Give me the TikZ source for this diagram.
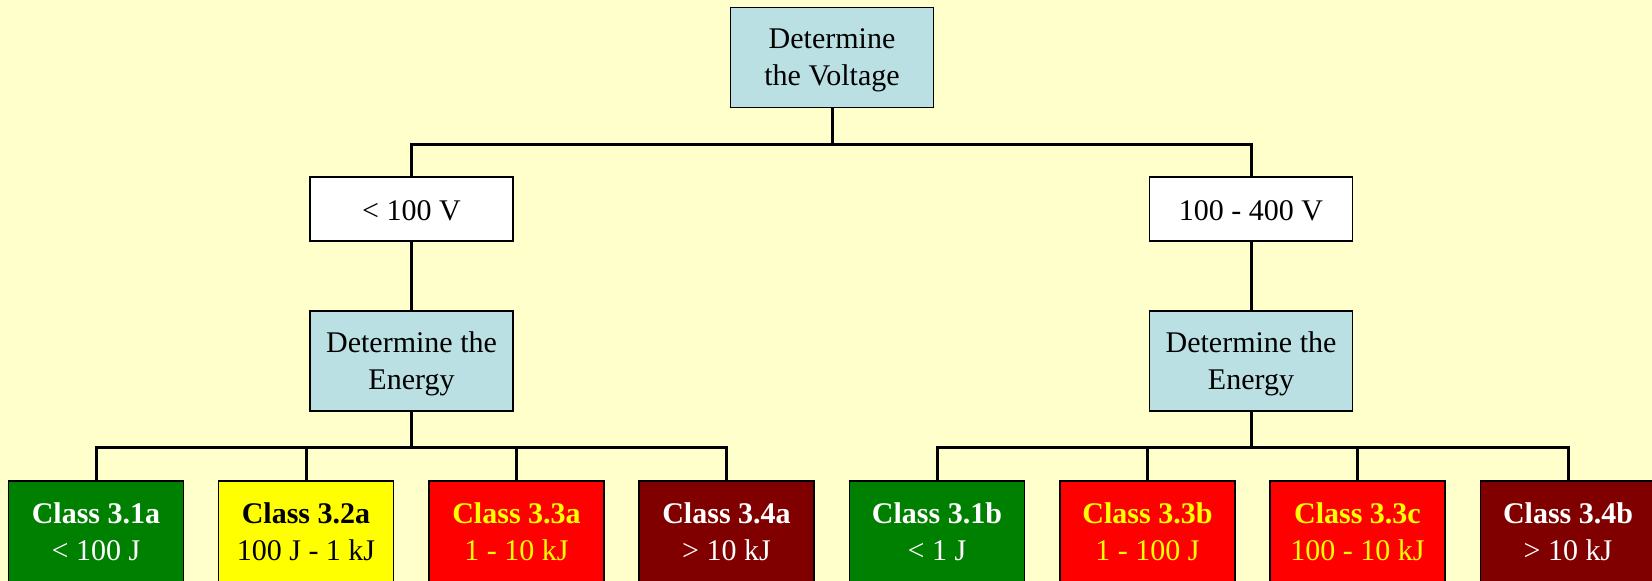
\documentclass[tikz,border=0pt]{standalone}
\usepackage{fontspec}
\setmainfont{Liberation Serif}
\definecolor{bgyellow}{RGB}{255,255,204}
\definecolor{askblue}{RGB}{187,224,227}
\definecolor{clgreen}{RGB}{0,128,0}
\definecolor{clyellow}{RGB}{255,255,0}
\definecolor{clred}{RGB}{255,0,0}
\definecolor{cldark}{RGB}{128,0,0}
\tikzset{
  box/.style={draw=black, line width=1.5pt, inner sep=0pt, align=center,
    font=\fontsize{30}{37}\selectfont},
  askbox/.style={box, fill=askblue, minimum width=203pt, minimum height=100pt,
    text height=57pt, text depth=1pt},
  voltbox/.style={box, fill=white, minimum width=203pt, minimum height=64pt,
    text height=22pt, text depth=0pt},
  classbox/.style={box, minimum width=175pt, minimum height=106pt,
    text height=57pt, text depth=5pt},
  link/.style={draw=black, line width=3pt},
}
\begin{document}
\begin{tikzpicture}[x=1pt, y=-1pt]
  \fill[bgyellow] (0,0) rectangle (1652,581);
  \useasboundingbox (0,0) rectangle (1652,581);
  \clip (0,0) rectangle (1652,581);

  % question and voltage ranges
  \node[askbox] (volt) at (832,57.5) {Determine\\the Voltage};
  \node[voltbox] (low) at (411.5,209) {< 100 V};
  \node[voltbox] (mid) at (1251,209) {100 - 400 V};
  \node[askbox] (enA) at (411.5,361) {Determine the\\Energy};
  \node[askbox] (enB) at (1251,361) {Determine the\\Energy};

  % energy classes
  \node[classbox, fill=clgreen, text=white] (c1a) at (96,534)
    {\textbf{Class 3.1a}\\< 100 J};
  \node[classbox, fill=clyellow, text=black] (c2a) at (306,534)
    {\textbf{Class 3.2a}\\100 J - 1 kJ};
  \node[classbox, fill=clred, text=clyellow] (c3a) at (516.5,534)
    {\textbf{Class 3.3a}\\1 - 10 kJ};
  \node[classbox, fill=cldark, text=white] (c4a) at (726.5,534)
    {\textbf{Class 3.4a}\\> 10 kJ};
  \node[classbox, fill=clgreen, text=white] (c1b) at (937,534)
    {\textbf{Class 3.1b}\\< 1 J};
  \node[classbox, fill=clred, text=clyellow] (c3b) at (1147.5,534)
    {\textbf{Class 3.3b}\\1 - 100 J};
  \node[classbox, fill=clred, text=clyellow] (c3c) at (1357.5,534)
    {\textbf{Class 3.3c}\\100 - 10 kJ};
  \node[classbox, fill=cldark, text=white] (c4b) at (1568,534)
    {\textbf{Class 3.4b}\\> 10 kJ};

  % bus points
  \coordinate (busV) at (832,144);
  \coordinate (busA) at (411.5,447);
  \coordinate (busB) at (1251,447);

  % connectors
  \draw[link] (volt.south) -- (busV);
  \draw[link] (busV) -| (low.north);
  \draw[link] (busV) -| (mid.north);
  \draw[link] (low.south) -- (enA.north);
  \draw[link] (mid.south) -- (enB.north);
  \draw[link] (enA.south) -- (busA);
  \draw[link] (enB.south) -- (busB);
  \foreach \c in {c1a,c2a,c3a,c4a} \draw[link] (busA) -| (\c.north);
  \foreach \c in {c1b,c3b,c3c,c4b} \draw[link] (busB) -| (\c.north);
\end{tikzpicture}
\end{document}
